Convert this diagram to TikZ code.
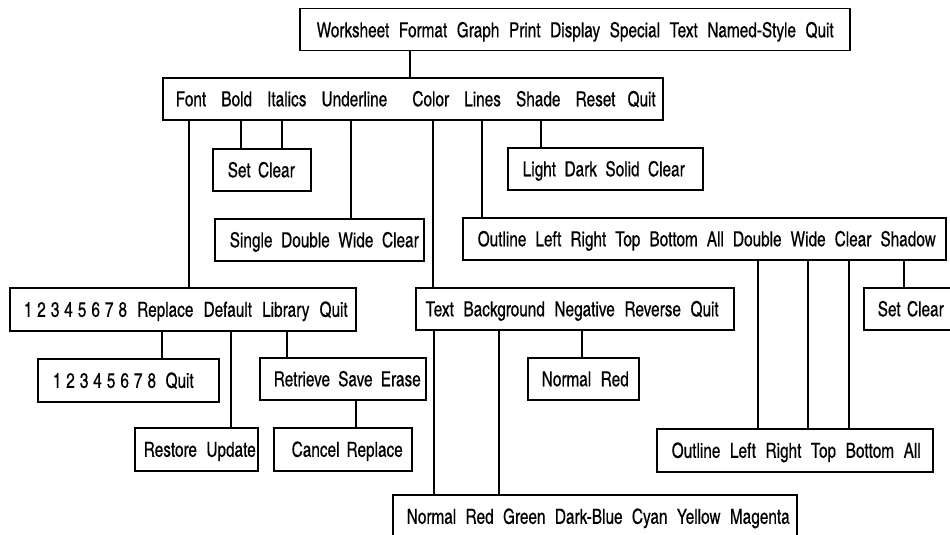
\documentclass[tikz,border=0pt]{standalone}
\usepackage{fontspec}
\setmainfont{texgyreheroscn-regular.otf}[FakeBold=0.4, FakeStretch=0.9]
% box content: total width, left pad, text width, words spread over the text width
\newcommand\entry[4]{\makebox[#1pt][l]{\hspace*{#2pt}\makebox[#3pt][s]{#4}}}
% tight digit run
\newcommand\digits{1\hspace{5pt}2\hspace{5pt}3\hspace{5pt}4\hspace{5pt}5\hspace{5pt}6\hspace{5pt}7\hspace{5pt}8}
\begin{document}
\begin{tikzpicture}[x=1pt,y=-1pt,
  menubox/.style={draw, line width=1.5pt, rectangle, anchor=north west,
    inner sep=0pt, text height=15pt, text depth=0pt,
    font=\fontsize{20.8}{22}\selectfont},
  link/.style={line width=1.5pt}]
\useasboundingbox (0,0) rectangle (950,535);

% top-level menu
\node[menubox, minimum height=42pt] (main) at (299,8)
  {\entry{550}{17}{517}{Worksheet Format Graph Print Display Special Text Named-Style Quit}};
% display menu
\node[menubox, minimum height=42pt] (disp) at (162,77)
  {\entry{500}{13}{480}{Font Bold Italics Underline\hspace{10pt} Color Lines Shade Reset\hspace{-3pt} Quit}};

% second level
\node[menubox, minimum height=42pt] (bold) at (212,148)
  {\entry{98}{15}{67}{Set Clear}};
\node[menubox, minimum height=42pt] (under) at (214,218)
  {\entry{209}{15}{189}{Single Double Wide Clear}};
\node[menubox, minimum height=42pt] (shade) at (507,147)
  {\entry{195}{15}{162}{Light Dark Solid Clear}};
\node[menubox, minimum height=42pt] (lines) at (462,217)
  {\entry{483}{15}{458}{Outline Left Right Top Bottom All Double Wide Clear Shadow}};

% third level
\node[menubox, minimum height=43pt] (font) at (9,287)
  {\entry{346}{14}{324}{\digits{} Replace Default Library Quit}};
\node[menubox, minimum height=42pt] (color) at (415,287)
  {\entry{318}{10}{293}{Text Background Negative Reverse Quit}};
\node[menubox, minimum height=42pt] (shadow) at (863,287)
  {\entry{94}{14}{66}{Set Clear}};

% fourth level
\node[menubox, minimum height=43pt] (digits) at (37,358)
  {\entry{181}{15}{141}{\digits{} Quit}};
\node[menubox, minimum height=42pt] (library) at (259,357)
  {\entry{166}{14}{147}{Retrieve Save Erase}};
\node[menubox, minimum height=42pt] (negative) at (527,357)
  {\entry{111}{14}{87}{Normal Red}};
\node[menubox, minimum height=43pt] (default) at (134,427)
  {\entry{123}{9}{112}{Restore Update}};
\node[menubox, minimum height=43pt] (erase) at (273,427)
  {\entry{138}{18}{111}{Cancel Replace}};
\node[menubox, minimum height=43pt] (edges) at (656,428)
  {\entry{276}{15}{249}{Outline Left Right Top Bottom All}};
\node[menubox, minimum height=43pt] (palette) at (392,494)
  {\entry{404}{14}{383}{Normal Red Green Dark-Blue Cyan Yellow Magenta}};

% vertical connectors: parent / child / x position
\foreach \up/\down/\x in {
    main/disp/410,
    disp/font/189, disp/bold/241, disp/bold/282, disp/under/351,
    disp/color/433, disp/lines/482, disp/shade/541,
    font/digits/162, font/default/231, font/library/287,
    library/erase/356,
    color/palette/434, color/palette/499, color/negative/582,
    lines/edges/758, lines/edges/808, lines/edges/849, lines/shadow/904}
  \draw[link] (\up.south -| \x,0) -- (\down.north -| \x,0);
\end{tikzpicture}
\end{document}
